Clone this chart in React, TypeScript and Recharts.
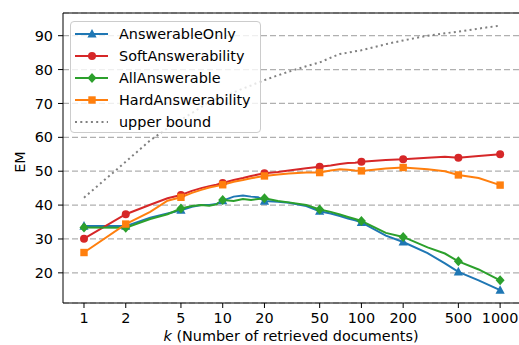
import { LineChart, Line, XAxis, YAxis, CartesianGrid, ReferenceLine } from 'recharts';

const FONT = '"DejaVu Sans", sans-serif';
const FS = 14.4;
const BLUE = '#1f77b4';
const RED = '#d62728';
const GREEN = '#2ca02c';
const ORANGE = '#ff7f0e';
const GRAY = '#808080';

// k values (number of retrieved documents)
const kValues = [1, 2, 3, 4, 5, 6, 7, 8, 9, 10, 12, 14, 16, 18, 20, 25, 30, 40, 50, 60, 70, 80, 90, 100, 150, 200, 300, 400, 500, 700, 1000];
const answerableOnly = [33.8, 33.8, 36.3, 37.5, 38.5, 39.5, 40.0, 40.0, 40.3, 41.3, 42.5, 42.8, 42.5, 42.3, 41.2, 41.0, 40.7, 39.7, 38.2, 37.5, 36.8, 36.0, 35.5, 34.9, 31.0, 29.1, 25.8, 22.8, 20.3, 17.8, 14.9];
const softAnswerability = [30.1, 37.3, 40.1, 42.0, 43.0, 44.2, 45.0, 45.6, 46.0, 46.5, 47.4, 48.0, 48.6, 49.0, 49.4, 49.8, 50.2, 50.9, 51.3, 51.7, 52.1, 52.4, 52.5, 52.8, 53.3, 53.5, 54.0, 54.3, 54.0, 54.5, 55.0];
const allAnswerable = [33.4, 33.3, 35.9, 37.3, 39.0, 39.7, 40.0, 39.8, 40.2, 41.5, 41.2, 41.8, 41.5, 41.8, 42.0, 41.2, 40.8, 40.0, 38.7, 38.0, 37.2, 36.5, 35.9, 35.3, 31.8, 30.6, 27.5, 25.7, 23.4, 21.0, 17.8];
const hardAnswerability = [26.0, 34.4, 38.0, 41.3, 42.3, 43.6, 44.5, 45.2, 45.6, 46.0, 46.9, 47.4, 47.9, 48.3, 48.6, 49.0, 49.3, 49.6, 49.6, 50.2, 50.6, 50.4, 50.2, 50.1, 50.8, 51.1, 50.6, 50.0, 48.9, 48.0, 45.9];
const upperBound = [42.2, 52.8, 59.1, 62.7, 65.2, 67.2, 68.9, 70.5, 71.3, 72.0, 73.3, 74.4, 75.3, 76.2, 76.9, 78.3, 79.4, 81.0, 82.1, 83.5, 84.6, 85.0, 85.4, 85.7, 87.5, 88.6, 90.0, 90.7, 91.2, 92.1, 93.0];

const xTicks = [1, 2, 5, 10, 20, 50, 100, 200, 500, 1000];
const yTicks = [20, 30, 40, 50, 60, 70, 80, 90];

const data = kValues.map((k, i) => ({
  k,
  answerableOnly: answerableOnly[i],
  softAnswerability: softAnswerability[i],
  allAnswerable: allAnswerable[i],
  hardAnswerability: hardAnswerability[i],
  upperBound: upperBound[i],
}));

type Shape = 'triangle' | 'circle' | 'diamond' | 'square';

const Marker = ({ shape, cx, cy, color }: { shape: Shape; cx: number; cy: number; color: string }) => {
  if (shape === 'circle') return <circle cx={cx} cy={cy} r={4} fill={color} />;
  if (shape === 'square') return <rect x={cx - 3.7} y={cy - 3.7} width={7.4} height={7.4} fill={color} />;
  if (shape === 'diamond')
    return <polygon points={`${cx},${cy - 5} ${cx + 4.5},${cy} ${cx},${cy + 5} ${cx - 4.5},${cy}`} fill={color} />;
  return <polygon points={`${cx},${cy - 5} ${cx + 4.6},${cy + 3.6} ${cx - 4.6},${cy + 3.6}`} fill={color} />;
};

// markers only at the tick k values, the line itself has more points
const makeDot = (shape: Shape, color: string) => (props: any) => {
  const { cx, cy, payload, index } = props;
  if (!xTicks.includes(payload.k)) return <g key={index} />;
  return <Marker key={index} shape={shape} cx={cx} cy={cy} color={color} />;
};

const legendItems: { name: string; color: string; shape?: Shape }[] = [
  { name: 'AnswerableOnly', color: BLUE, shape: 'triangle' },
  { name: 'SoftAnswerability', color: RED, shape: 'circle' },
  { name: 'AllAnswerable', color: GREEN, shape: 'diamond' },
  { name: 'HardAnswerability', color: ORANGE, shape: 'square' },
  { name: 'upper bound', color: GRAY },
];

const ChartLegend = () => (
  <div
    style={{
      position: 'absolute',
      left: 70,
      top: 21,
      width: 191,
      height: 112,
      boxSizing: 'border-box',
      border: '1px solid #cccccc',
      borderRadius: 4,
      background: 'rgba(255,255,255,0.8)',
      fontFamily: FONT,
      fontSize: FS,
    }}
  >
    {legendItems.map((it, i) => (
      <div key={it.name} style={{ position: 'absolute', left: 0, top: 1 + i * 22, height: 22, width: 189 }}>
        <svg width={40} height={22} style={{ position: 'absolute', left: 4, top: 0 }}>
          <line
            x1={0}
            x2={33}
            y1={11}
            y2={11}
            stroke={it.color}
            strokeWidth={2}
            strokeDasharray={it.shape ? undefined : '2 3.3'}
          />
          {it.shape && <Marker shape={it.shape} cx={17} cy={11} color={it.color} />}
        </svg>
        <span style={{ position: 'absolute', left: 48, top: 0, lineHeight: '22px', color: '#000', whiteSpace: 'nowrap' }}>
          {it.name}
        </span>
      </div>
    ))}
  </div>
);

const XLabel = () => (
  <text x={291} y={341} textAnchor="middle" fontFamily={FONT} fontSize={FS} fill="#000">
    <tspan fontStyle="italic">k</tspan> (Number of retrieved documents)
  </text>
);

const YLabel = () => (
  <text x={20} y={162} transform="rotate(-90 20 162)" textAnchor="middle" dominantBaseline="central" fontFamily={FONT} fontSize={FS} fill="#000">
    EM
  </text>
);

export default function App() {
  const tickStyle = { fill: '#000', fontSize: FS, fontFamily: FONT };
  return (
    <div style={{ position: 'absolute', left: 0, top: 0, width: 519, height: 345 }}>
      <LineChart width={519} height={345} data={data} margin={{ top: 13, right: 0, bottom: 0, left: 0 }}>
        <CartesianGrid vertical={false} stroke="#b0b0b0" strokeDasharray="6 3" strokeWidth={1.2} />
        <XAxis
          dataKey="k"
          type="number"
          scale="log"
          domain={[0.7057, 1368]}
          allowDataOverflow
          ticks={xTicks}
          interval={0}
          height={42}
          tick={tickStyle}
          tickSize={5}
          tickMargin={5}
          tickLine={{ stroke: '#000' }}
          axisLine={{ stroke: '#000' }}
          label={<XLabel />}
        />
        <YAxis
          type="number"
          domain={[11.1, 96.7]}
          allowDataOverflow
          ticks={yTicks}
          interval={0}
          width={63}
          tick={tickStyle}
          tickSize={5}
          tickMargin={5}
          tickLine={{ stroke: '#000' }}
          axisLine={{ stroke: '#000' }}
          label={<YLabel />}
        />
        <ReferenceLine y={96.7} stroke="#000" />
        <Line dataKey="answerableOnly" stroke={BLUE} strokeWidth={2} dot={makeDot('triangle', BLUE)} activeDot={false} isAnimationActive={false} />
        <Line dataKey="softAnswerability" stroke={RED} strokeWidth={2} dot={makeDot('circle', RED)} activeDot={false} isAnimationActive={false} />
        <Line dataKey="allAnswerable" stroke={GREEN} strokeWidth={2} dot={makeDot('diamond', GREEN)} activeDot={false} isAnimationActive={false} />
        <Line dataKey="hardAnswerability" stroke={ORANGE} strokeWidth={2} dot={makeDot('square', ORANGE)} activeDot={false} isAnimationActive={false} />
        <Line dataKey="upperBound" stroke={GRAY} strokeWidth={2} strokeDasharray="2 3.3" dot={false} activeDot={false} isAnimationActive={false} />
      </LineChart>
      <ChartLegend />
    </div>
  );
}
